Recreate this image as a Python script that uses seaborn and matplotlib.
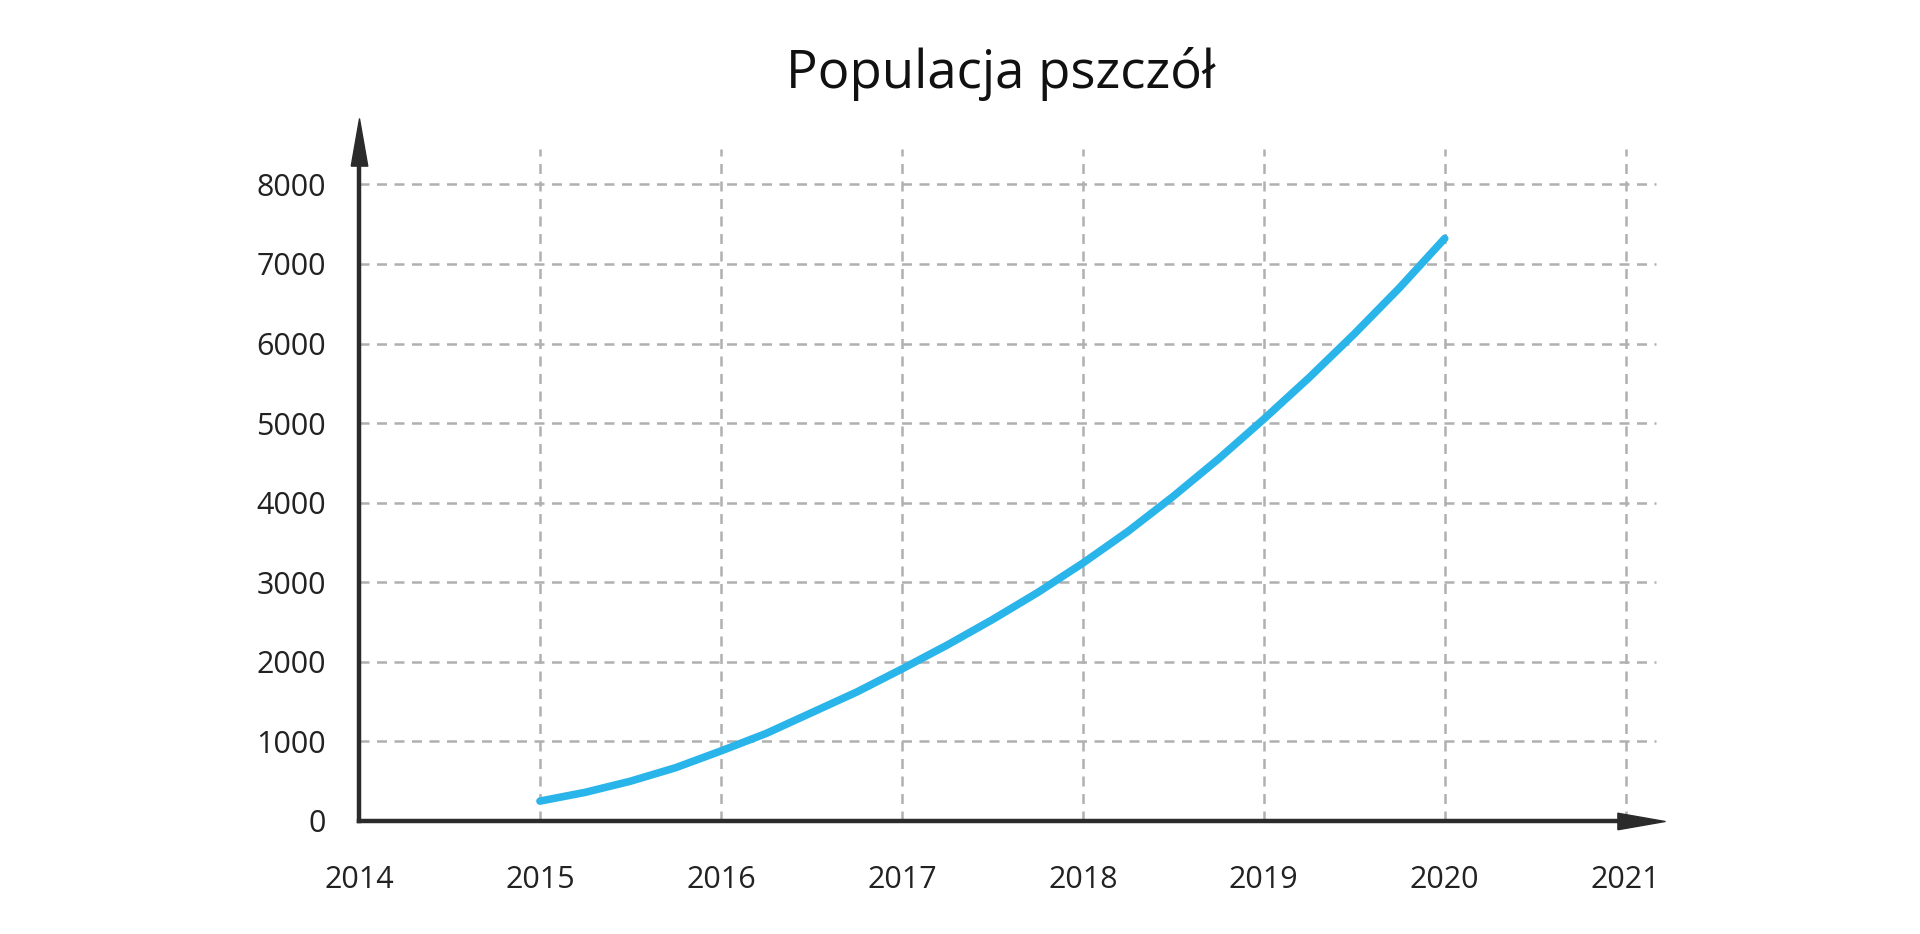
import matplotlib
matplotlib.use("Agg")
import matplotlib.pyplot as plt
import seaborn as sns
import pandas as pd

years = [2015, 2015.25, 2015.5, 2015.75, 2016, 2016.25, 2016.5, 2016.75, 2017, 2017.25, 2017.5,
         2017.75, 2018, 2018.25, 2018.5, 2018.75, 2019, 2019.25, 2019.5, 2019.75, 2020]
population = [250, 360, 500, 670, 880, 1100, 1360, 1620, 1910, 2210, 2530,
              2870, 3240, 3640, 4080, 4550, 5050, 5570, 6120, 6700, 7320]
x_ticks = [2014, 2015, 2016, 2017, 2018, 2019, 2020, 2021]
y_ticks = [0, 1000, 2000, 3000, 4000, 5000, 6000, 7000, 8000]
title = "Populacja pszczół"

sns.set_style("white")
plt.rcParams['font.family'] = ['Open Sans', 'DejaVu Sans']

fig = plt.figure(figsize=(19.2, 9.34), dpi=100)
ax = fig.add_axes([0.187, 0.121, 0.671, 0.731])
df = pd.DataFrame({"year": years, "pop": population})
sns.lineplot(data=df, x="year", y="pop", ax=ax, color="#29b5ea", linewidth=5.5, zorder=3)

ax.set_xlim(2014, 2021.12)
ax.set_ylim(0, 8580)
ax.set_xticks(x_ticks)
ax.set_xticklabels([str(t) for t in x_ticks])
ax.set_yticks(y_ticks)
ax.set_yticklabels([str(t) for t in y_ticks])
ax.tick_params(axis='x', length=0, pad=32, labelsize=22, colors="#222")
ax.tick_params(axis='y', length=0, pad=24, labelsize=22, colors="#222")
ax.set_xlabel("")
ax.set_ylabel("")

for t in y_ticks[1:]:
    ax.plot([2014, 2021.17], [t, t], ls=(0, (4, 3)), color="#b0b0b0", lw=1.8, zorder=1, clip_on=False)
for t in x_ticks[1:]:
    ax.plot([t, t], [0, 8450], ls=(0, (4, 3)), color="#b0b0b0", lw=1.8, zorder=1)

for s in ["top", "right"]:
    ax.spines[s].set_visible(False)
for s in ["left", "bottom"]:
    ax.spines[s].set_color("#2b2b2b")
    ax.spines[s].set_linewidth(3.2)
right_tri = [(-1, -0.35), (1, 0), (-1, 0.35), (-1, -0.35)]
up_tri = [(-0.35, -1), (0, 1), (0.35, -1), (-0.35, -1)]
ax.plot(0.995, 0, marker=right_tri, markersize=34, color="#2b2b2b", transform=ax.transAxes, clip_on=False, zorder=5)
ax.plot(0, 0.995, marker=up_tri, markersize=34, color="#2b2b2b", transform=ax.transAxes, clip_on=False, zorder=5)

fig.text(0.521, 0.921, title, ha="center", va="center", fontsize=38, color="#111")
fig.savefig("out.png", dpi=100)
